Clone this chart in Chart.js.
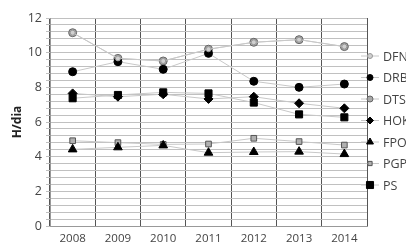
<!DOCTYPE html>
<html>
<head>
<meta charset="utf-8">
<script src="https://cdn.jsdelivr.net/npm/chart.js@4/dist/chart.umd.min.js"></script>
<style>
  html, body { margin: 0; padding: 0; background: #fff; }
  #wrap { width: 406px; height: 246px; position: relative; }
</style>
</head>
<body>
<div id="wrap"><canvas id="chart"></canvas></div>
<script>
// data
const years = ['2008', '2009', '2010', '2011', '2012', '2013', '2014'];
const dfn = [11.15, 9.67, 9.52, 10.2, 10.6, 10.75, 10.35];
const drb = [8.9, 9.48, 9.04, 9.96, 8.35, 8.0, 8.19];
const dts = [11.15, 9.67, 9.52, 10.2, 10.6, 10.75, 10.35];
const hok = [7.65, 7.46, 7.6, 7.33, 7.46, 7.08, 6.79];
const fpo = [4.42, 4.54, 4.65, 4.23, 4.27, 4.29, 4.15];
const pgp = [4.92, 4.81, 4.71, 4.73, 5.06, 4.87, 4.67];
const ps = [7.37, 7.56, 7.71, 7.65, 7.12, 6.44, 6.27];
const yLabels = [0, 2, 4, 6, 8, 10, 12];
const gridStep = 0.4;

const lineGray = '#c8c8c8';

function series(label, data, style, radius, fill, border, legendRadius) {
  return {
    label: label,
    data: data,
    borderColor: lineGray,
    borderWidth: 1,
    pointStyle: style,
    pointRadius: radius,
    pointBackgroundColor: fill,
    pointBorderColor: border,
    pointBorderWidth: 1,
    legendRadius: legendRadius,
    tension: 0
  };
}

// legend drawn on the right, with a short line through each marker
const sideLegend = {
  id: 'sideLegend',
  afterDraw(chart) {
    const ctx = chart.ctx;
    const top = 56, gap = 21.5;
    chart.data.datasets.forEach((ds, i) => {
      const y = top + i * gap;
      ctx.save();
      ctx.strokeStyle = lineGray;
      ctx.lineWidth = 1;
      ctx.beginPath();
      ctx.moveTo(361, y);
      ctx.lineTo(379, y);
      ctx.stroke();
      ctx.fillStyle = ds.pointBackgroundColor;
      ctx.strokeStyle = ds.pointBorderColor;
      Chart.helpers.drawPoint(ctx, { pointStyle: ds.pointStyle, radius: ds.legendRadius, borderWidth: 1 }, 370, y);
      ctx.fillStyle = '#444';
      ctx.font = '12.5px "Open Sans", "DejaVu Sans", sans-serif';
      ctx.textBaseline = 'middle';
      ctx.textAlign = 'left';
      ctx.fillText(ds.label, 383, y + 1);
      ctx.restore();
    });
  }
};

new Chart(document.getElementById('chart'), {
  type: 'line',
  data: {
    labels: years,
    datasets: [
      series('DFN', dfn, 'circle', 2.5, '#d0d0d0', '#999', 2.5),
      series('DRB', drb, 'circle', 4, '#000', '#000', 3),
      series('DTS', dts, 'circle', 4, '#a8a8a8', '#666', 3),
      series('HOK', hok, 'rectRot', 4.5, '#000', '#000', 3.5),
      series('FPO', fpo, 'triangle', 5, '#000', '#000', 4),
      series('PGP', pgp, 'rect', 4, '#b0b0b0', '#555', 3),
      series('PS', ps, 'rect', 5, '#000', '#000', 5)
    ]
  },
  options: {
    responsive: true,
    maintainAspectRatio: false,
    animation: false,
    layout: { padding: { top: 18, right: 39, left: 0, bottom: 0 } },
    plugins: {
      legend: { display: false },
      tooltip: { enabled: false }
    },
    scales: {
      x: {
        offset: true,
        grid: { offset: true, color: '#555', lineWidth: 1, drawTicks: false },
        border: { color: '#999' },
        ticks: {
          color: '#444',
          font: { size: 11.5, family: '"Open Sans", "DejaVu Sans", sans-serif' },
          padding: 6
        },
        afterFit(scale) { scale.height = 20; }
      },
      y: {
        min: 0,
        max: 12,
        afterBuildTicks(scale) {
          const t = [];
          for (let i = 0; i <= 30; i++) t.push({ value: Math.round(i * gridStep * 10) / 10 });
          scale.ticks = t;
        },
        grid: { color: '#c0c0c0', lineWidth: 1, tickLength: 4 },
        border: { color: '#999' },
        ticks: {
          autoSkip: false,
          color: '#444',
          font: { size: 12.5, family: '"Open Sans", "DejaVu Sans", sans-serif' },
          padding: 4,
          callback: function (v) { return yLabels.includes(v) ? String(v) : ''; }
        },
        title: {
          display: true,
          text: 'H/dia',
          color: '#222',
          font: { size: 12, weight: 'bold', family: '"Open Sans", "DejaVu Sans", sans-serif' },
          padding: { top: 10, bottom: 0 }
        },
        afterFit(scale) { scale.width = 50; }
      }
    }
  },
  plugins: [sideLegend]
});
</script>
</body>
</html>
